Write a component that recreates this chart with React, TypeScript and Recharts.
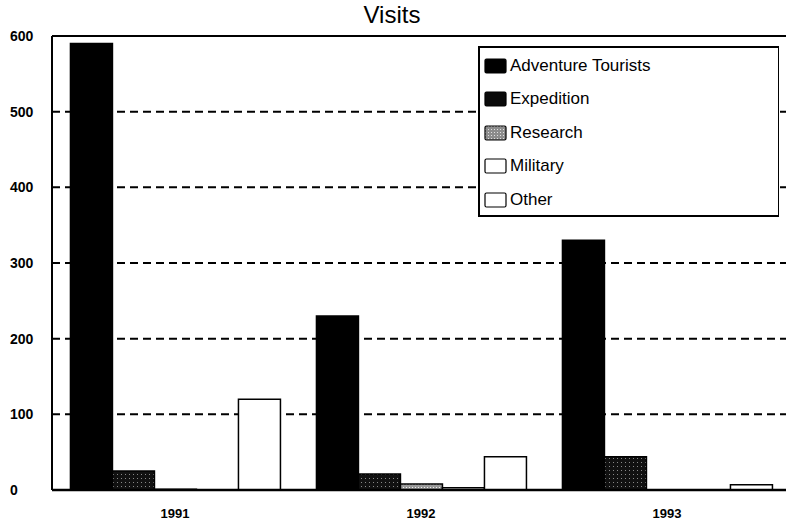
import { BarChart, Bar, XAxis, YAxis, CartesianGrid, ReferenceLine } from "recharts";

const YEARS = ["1991", "1992", "1993"];
const ADVENTURE = [590, 230, 330];
const EXPEDITION = [25, 21, 44];
const RESEARCH = [1, 8, 0];
const MILITARY = [0, 3, 0];
const OTHER = [120, 44, 7];
const Y_TICKS = [0, 100, 200, 300, 400, 500, 600];

const data = YEARS.map((year, i) => ({
  year,
  adventure: ADVENTURE[i],
  expedition: EXPEDITION[i],
  research: RESEARCH[i],
  military: MILITARY[i],
  other: OTHER[i],
}));

const FONT = '"Liberation Sans", Arial, sans-serif';

const SERIES = [
  { key: "adventure", name: "Adventure Tourists", fill: "#000", swatch: "#000" },
  { key: "expedition", name: "Expedition", fill: "url(#expeditionFill)", swatch: "#0a0a0a" },
  { key: "research", name: "Research", fill: "url(#researchFill)", swatch: "url(#researchSwatch)" },
  { key: "military", name: "Military", fill: "#fff", swatch: "#fff" },
  { key: "other", name: "Other", fill: "#fff", swatch: "#fff" },
];

const YTick = ({ y, payload }: any) => (
  <text x={10} y={y} dy={5} fontSize={14} fontWeight="bold" fontFamily={FONT} fill="#000">
    {payload.value}
  </text>
);

// legend box sits over the plot, covering the grid lines behind it
const LegendBox = () => (
  <div
    style={{
      position: "absolute",
      left: 478,
      top: 46,
      width: 301,
      height: 171,
      background: "#fff",
      borderTop: "2px solid #000",
      borderBottom: "2px solid #000",
      borderLeft: "2px solid #000",
      borderRight: "1.5px solid #000",
      fontFamily: FONT,
      fontSize: 17,
      color: "#000",
      paddingTop: 1,
      boxSizing: "border-box",
    }}
  >
    {SERIES.map((s) => (
      <div key={s.key} style={{ display: "flex", alignItems: "center", height: 33.5, paddingLeft: 4 }}>
        <svg width={23} height={16} style={{ marginRight: 3 }}>
          <defs>
            <pattern id="researchSwatch" width="3" height="3" patternUnits="userSpaceOnUse">
              <rect width="3" height="3" fill="#8c8c8c" />
              <rect x="1" y="1" width="1" height="1" fill="#e0e0e0" />
            </pattern>
          </defs>
          <rect x={1} y={1} width={21} height={14} rx={1.5} fill={s.swatch} stroke="#000" strokeWidth={1.2} />
        </svg>
        <span>{s.name}</span>
      </div>
    ))}
  </div>
);

export default function App() {
  return (
    <div style={{ position: "fixed", left: 0, top: 0, width: 786, height: 528, overflow: "hidden", background: "#fff" }}>
      <div
        style={{
          position: "absolute",
          left: 0,
          top: 1,
          width: 784,
          textAlign: "center",
          fontFamily: FONT,
          fontSize: 24,
          color: "#000",
        }}
      >
        Visits
      </div>
      <BarChart
        width={800}
        height={528}
        data={data}
        margin={{ top: 36, right: 10, bottom: 8, left: 0 }}
        barCategoryGap="7.5%"
        barGap={0}
      >
        <defs>
          <pattern id="expeditionFill" width="4" height="4" patternUnits="userSpaceOnUse">
            <rect width="4" height="4" fill="#111" />
            <rect x="1" y="2" width="1" height="1" fill="#888" />
          </pattern>
          <pattern id="researchFill" width="3" height="3" patternUnits="userSpaceOnUse">
            <rect width="3" height="3" fill="#9a9a9a" />
            <rect x="1" y="1" width="1" height="1" fill="#eee" />
          </pattern>
        </defs>
        <CartesianGrid vertical={false} stroke="#000" strokeWidth={2} strokeDasharray="8 5" />
        <XAxis
          dataKey="year"
          axisLine={false}
          tickLine={false}
          height={30}
          tick={{ fontSize: 13, fontWeight: "bold", fontFamily: FONT, fill: "#000", dy: 11 }}
        />
        <YAxis
          width={52}
          domain={[0, 600]}
          ticks={Y_TICKS}
          interval={0}
          axisLine={{ stroke: "#000", strokeWidth: 2 }}
          tickLine={false}
          tick={<YTick />}
        />
        {SERIES.map((s) => (
          <Bar
            key={s.key}
            dataKey={s.key}
            name={s.name}
            fill={s.fill}
            stroke="#000"
            strokeWidth={1.5}
            isAnimationActive={false}
          />
        ))}
        <ReferenceLine y={600} stroke="#000" strokeWidth={2} />
        <ReferenceLine y={0} stroke="#000" strokeWidth={2.5} />
      </BarChart>
      <LegendBox />
    </div>
  );
}
